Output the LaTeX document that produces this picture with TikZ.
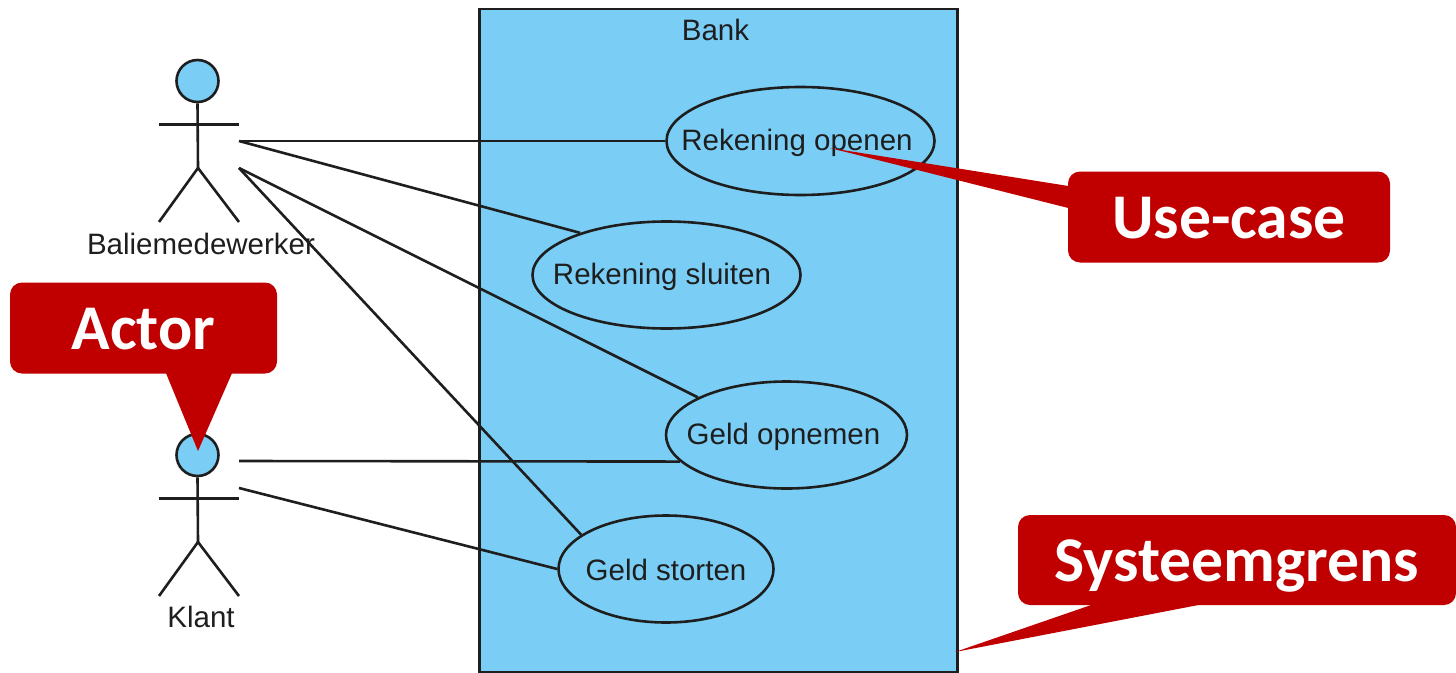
\documentclass[tikz,border=0pt]{standalone}
\usepackage{fontspec}
\setmainfont{Liberation Sans}
\newfontfamily\calloutfont{Carlito}
\usetikzlibrary{shapes.geometric}
\definecolor{bankblue}{HTML}{7ACEF6}
\definecolor{calloutred}{HTML}{C00000}
\definecolor{linegray}{HTML}{1E1E1E}
\tikzset{
  usecase/.style={draw=linegray, fill=bankblue, ellipse, line width=2.6pt, inner sep=0pt},
  diagramtext/.style={font=\fontsize{29.5}{34}\selectfont, text=linegray, inner sep=0pt},
  callout/.style={fill=calloutred, rounded corners=12pt, text=white, inner sep=0pt, text height=50pt, text depth=8pt, font=\calloutfont\bfseries\fontsize{63.7}{70}\selectfont},
  conn/.style={draw=linegray, line width=2.6pt},
}
\begin{document}
\begin{tikzpicture}[x=1pt,y=-1pt]
  \useasboundingbox (0,0) rectangle (1456,672);
  % system boundary
  \node[draw=linegray, fill=bankblue, line width=2.6pt, minimum width=478pt, minimum height=663pt, inner sep=0pt, anchor=north west] (Bank) at (478,7.5) {};
  \node[diagramtext] (BankLabel) at (715.5,30) {Bank};
  % use cases
  \node[usecase, minimum width=268pt, minimum height=108pt] (Open) at (800.5,141) {};
  \node[usecase, minimum width=268pt, minimum height=107pt] (Close) at (666.5,275) {};
  \node[usecase, minimum width=241pt, minimum height=107pt] (Withdraw) at (786.5,435) {};
  \node[usecase, minimum width=215pt, minimum height=107pt] (Deposit) at (666,569) {};
  \node[diagramtext] (OpenText) at (797,143) {Rekening openen};
  \node[diagramtext] (CloseText) at (662,277) {Rekening sluiten};
  \node[diagramtext] (WithdrawText) at (783.5,437) {Geld opnemen};
  \node[diagramtext] (DepositText) at (666,569.5) {Geld storten};
  % actors
  \foreach \name/\y/\txt/\txty in {Clerk/81/Baliemedewerker/244, Customer/455/Klant/617}{
    \node[draw=linegray, fill=bankblue, circle, line width=2.6pt, minimum size=42pt, inner sep=0pt] (\name Head) at (197.5,\y) {};
    \coordinate (\name ArmL) at (159,\y+43.5);
    \coordinate (\name ArmR) at (239,\y+43.5);
    \coordinate (\name Hip) at (198,\y+87);
    \coordinate (\name FootL) at (159,\y+141);
    \coordinate (\name FootR) at (239,\y+141);
    \draw[conn] (\name Head.south) -- (\name Hip);
    \draw[conn] (\name ArmL) -- (\name ArmR);
    \draw[conn] (\name FootL) -- (\name Hip) -- (\name FootR);
    \node[diagramtext] (\name Label) at (201,\txty) {\txt};
  }
  % connectors
  \coordinate (ClerkA) at (239,141);
  \coordinate (ClerkB) at (239,168);
  \coordinate (CustomerA) at (239,461);
  \coordinate (CustomerB) at (239,488);
  \draw[conn] (ClerkA) -- (Open.west);
  \draw[conn] (ClerkA) -- (Close.154.6);
  \draw[conn] (ClerkB) -- (Withdraw.157.4);
  \draw[conn] (ClerkB) -- (Deposit.158.9);
  \draw[conn] (CustomerA) -- (Withdraw.194.5);
  \draw[conn] (CustomerB) -- (Deposit.west);
  % callouts
  \node[callout, minimum width=322pt, minimum height=91pt] (UseCase) at (1229,217) {Use-case};
  \node[callout, minimum width=267pt, minimum height=91pt] (Actor) at (143.5,328) {Actor};
  \node[callout, minimum width=438pt, minimum height=90pt] (Systeem) at (1237,560) {Systeemgrens};
  \coordinate (UseCaseTip) at (830,148);
  \coordinate (ActorTip) at (198,451);
  \coordinate (SysteemTip) at (955,652);
  \fill[calloutred] ([xshift=.5pt,yshift=31pt]UseCase.west) -- (UseCaseTip) -- ([xshift=.5pt,yshift=9pt]UseCase.west) -- cycle;
  \fill[calloutred] ([xshift=22.5pt,yshift=.5pt]Actor.south) -- (ActorTip) -- ([xshift=88.5pt,yshift=.5pt]Actor.south) -- cycle;
  \fill[calloutred] ([xshift=-145pt,yshift=.5pt]Systeem.south) -- (SysteemTip) -- ([xshift=-37pt,yshift=.5pt]Systeem.south) -- cycle;
\end{tikzpicture}
\end{document}
